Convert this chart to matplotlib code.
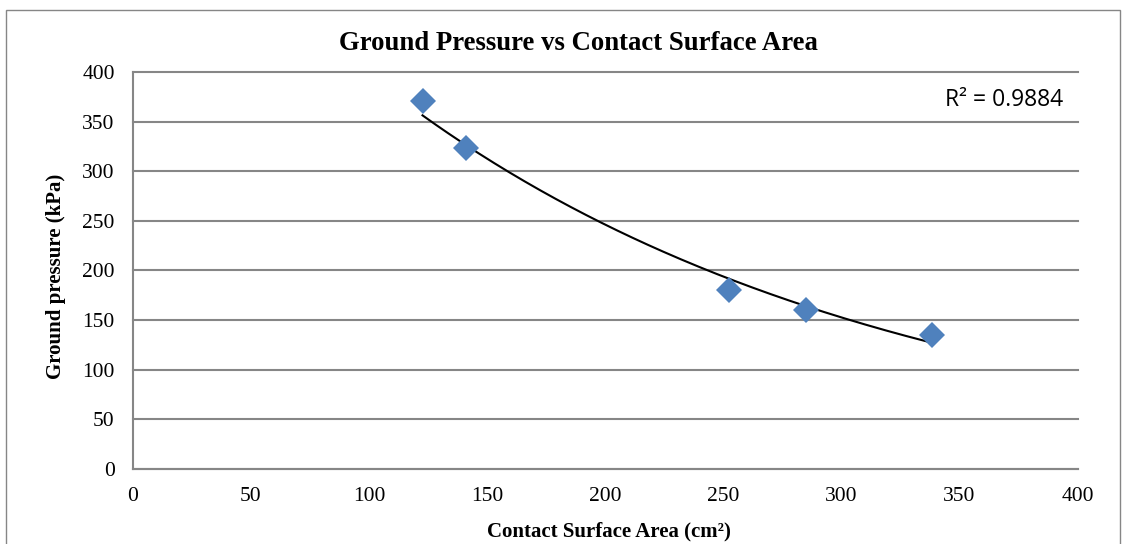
import numpy as np
import matplotlib
matplotlib.use("Agg")
import matplotlib.pyplot as plt
from matplotlib.patches import Rectangle

# Data
contact_area = [122.7, 141.0, 252.3, 284.9, 338.3]      # cm²
ground_pressure = [370.9, 323.0, 180.5, 159.7, 134.5]   # kPa
x_ticks = [0, 50, 100, 150, 200, 250, 300, 350, 400]
y_ticks = [0, 50, 100, 150, 200, 250, 300, 350, 400]
r2_label = "R² = 0.9884"

title = "Ground Pressure vs Contact Surface Area"
x_label = "Contact Surface Area (cm²)"
y_label = "Ground pressure (kPa)"

W, H = 1127, 544
fig = plt.figure(figsize=(W / 100, H / 100), dpi=100)
fig.patch.set_facecolor("white")

# outer chart border
fig.patches.append(Rectangle((6 / W, 1 - 560 / H), (1120 - 6) / W, (560 - 10) / H,
                             transform=fig.transFigure, fill=False,
                             edgecolor="#868686", linewidth=1.0, clip_on=False))

left, right = 132.7 / W, 1077.5 / W
top, bottom = 1 - 72.0 / H, 1 - 468.7 / H
ax = fig.add_axes([left, bottom, right - left, top - bottom])

ax.set_xlim(0, 400)
ax.set_ylim(0, 400)
ax.set_xticks(x_ticks)
ax.set_yticks(y_ticks)
ax.set_xticklabels([str(v) for v in x_ticks])
ax.set_yticklabels([str(v) for v in y_ticks])
serif = "Liberation Serif"
for lab in ax.get_xticklabels() + ax.get_yticklabels():
    lab.set_fontfamily(serif)
    lab.set_fontsize(15.5)
ax.tick_params(axis="x", length=0, pad=13)
ax.tick_params(axis="y", length=0, pad=13)

ax.grid(axis="y", color="#868686", linewidth=1.5)
for gl in ax.get_ygridlines():
    gl.set_clip_on(False)
ax.set_axisbelow(True)
for s in ["top", "right"]:
    ax.spines[s].set_visible(False)
for s in ["left", "bottom"]:
    ax.spines[s].set_color("#868686")
    ax.spines[s].set_linewidth(1.5)

# exponential trendline (least squares in log space, like Excel)
xa = np.array(contact_area)
ya = np.array(ground_pressure)
b, lna = np.polyfit(xa, np.log(ya), 1)
xf = np.linspace(xa.min(), xa.max(), 200)
ax.plot(xf, np.exp(lna) * np.exp(b * xf), color="black", linewidth=1.5, zorder=3)

ax.plot(contact_area, ground_pressure, linestyle="none", marker="D",
        markersize=13, color="#4F81BD", markeredgewidth=0, zorder=4)

fig.text(578 / W, 1 - 43 / H, title, ha="center", va="center",
         fontfamily=serif, fontweight="bold", fontsize=19.3)
fig.text(609 / W, 1 - 531 / H, x_label, ha="center", va="center",
         fontfamily=serif, fontweight="bold", fontsize=15)
fig.text(56 / W, 1 - 276.5 / H, y_label, ha="center", va="center", rotation=90,
         fontfamily=serif, fontweight="bold", fontsize=15)
fig.text(1063 / W, 1 - 100 / H, r2_label, ha="right", va="center",
         fontfamily="Open Sans", fontsize=16.5)

fig.savefig("out.png", dpi=100, facecolor="white")
